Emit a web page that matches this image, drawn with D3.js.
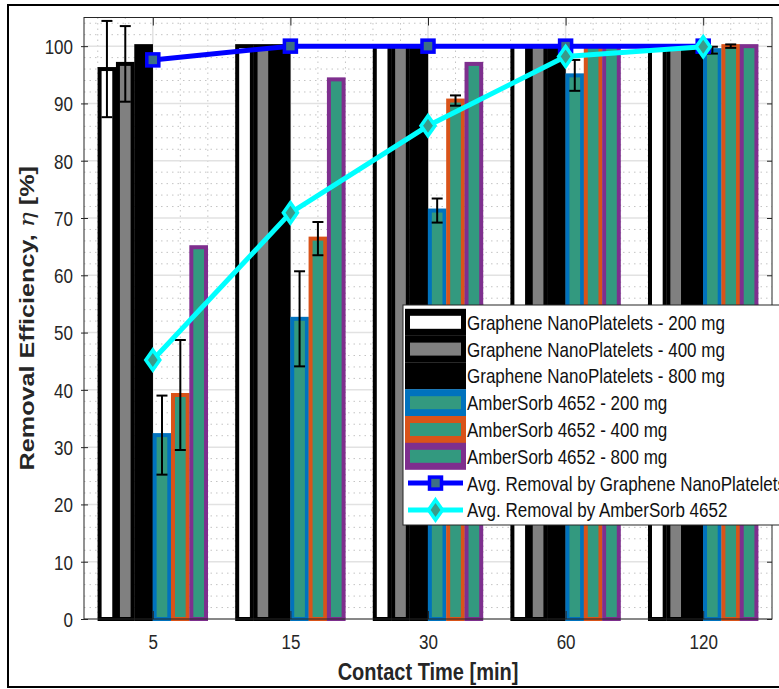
<!DOCTYPE html>
<html><head><meta charset="utf-8">
<script src="https://cdn.jsdelivr.net/npm/d3@7"></script>
<style>body{margin:0;background:#fff}svg{display:block}</style>
</head><body><svg id="c" width="779" height="689"></svg>
<script>
// ---- data ----
const categories = ["5", "15", "30", "60", "120"];
const gnp200 = [96.0, 100, 100, 100, 100];
const gnp200Err = [8.4, 0, 0, 0, 0];
const gnp400 = [96.9, 100, 100, 100, 100];
const gnp400Err = [6.6, 0, 0, 0, 0];
const gnp800 = [100, 100, 100, 100, 100];
const gnp800Err = [0, 0, 0, 0, 0];
const amb200 = [32.1, 52.4, 71.3, 94.9, 99.3];
const amb200Err = [6.9, 8.3, 2.1, 2.7, 0.6];
const amb400 = [39.1, 66.4, 90.5, 100, 100];
const amb400Err = [9.6, 2.9, 0.9, 0, 0.3];
const amb800 = [64.9, 94.2, 96.9, 100, 100];
const amb800Err = [0, 0, 0, 0, 0];
const avgGnp = [97.6, 100, 100, 100, 100];
const avgAmb = [45.2, 70.9, 86.1, 98.2, 99.9];
const yTicks = [0, 10, 20, 30, 40, 50, 60, 70, 80, 90, 100];
const barNames = ["Graphene NanoPlatelets - 200 mg", "Graphene NanoPlatelets - 400 mg",
  "Graphene NanoPlatelets - 800 mg", "AmberSorb 4652 - 200 mg", "AmberSorb 4652 - 400 mg",
  "AmberSorb 4652 - 800 mg"];
const lineNames = ["Avg. Removal by Graphene NanoPlatelets", "Avg. Removal by AmberSorb 4652"];
const xLabel = "Contact Time [min]";

// ---- styles ----
const TEAL = "#33997f";
const barStyles = [
  {fill: "#ffffff", edge: "#000000"},
  {fill: "#808080", edge: "#000000"},
  {fill: "#000000", edge: "#000000"},
  {fill: TEAL, edge: "#0072bd"},
  {fill: TEAL, edge: "#d95319"},
  {fill: TEAL, edge: "#7e2f8e"}
];
const barSeries = [gnp200, gnp400, gnp800, amb200, amb400, amb800];
const errSeries = [gnp200Err, gnp400Err, gnp800Err, amb200Err, amb400Err, amb800Err];
const SY = 1.22;
const FONT = "'Liberation Sans', Arial, Helvetica, sans-serif";
const TXT = "#262626";

const svg = d3.select("#c");
const L = 84, R = 772, T = 17.5, B = 619;
const x = d3.scaleLinear().domain([0.5, 5.5]).range([L, R]);
const y = d3.scaleLinear().domain([0, 105]).range([B, T]);

// outer frame
svg.append("rect").attr("x", 8).attr("y", 5).attr("width", 800).attr("height", 682)
  .attr("fill", "none").attr("stroke", "#000").attr("stroke-width", 2);

// grid
const grid = svg.append("g");
const minorY = d3.range(2, 105, 2).filter(v => v % 10 !== 0);
grid.selectAll(".my").data(minorY).join("line")
  .attr("x1", L).attr("x2", R).attr("y1", d => y(d)).attr("y2", d => y(d))
  .attr("stroke", "#c4c4c4").attr("stroke-width", 1).attr("stroke-dasharray", "1.5,4");
const minorX = d3.range(0.6, 5.45, 0.2).filter(v => Math.abs(v - Math.round(v)) > 0.05);
grid.selectAll(".mx").data(minorX).join("line")
  .attr("y1", T).attr("y2", B).attr("x1", d => x(d)).attr("x2", d => x(d))
  .attr("stroke", "#c4c4c4").attr("stroke-width", 1).attr("stroke-dasharray", "1.5,4");
grid.selectAll(".gy").data(yTicks).join("line")
  .attr("x1", L).attr("x2", R).attr("y1", d => y(d)).attr("y2", d => y(d))
  .attr("stroke", "#e2e2e2").attr("stroke-width", 1.5);
grid.selectAll(".gx").data([1, 2, 3, 4, 5]).join("line")
  .attr("y1", T).attr("y2", B).attr("x1", d => x(d)).attr("x2", d => x(d))
  .attr("stroke", "#e2e2e2").attr("stroke-width", 1.5);

// bars
const nS = barSeries.length;
const slot = 0.8 / nS;
const bw = slot * 0.8;
const bars = svg.append("g");
barSeries.forEach((vals, s) => {
  const st = barStyles[s];
  bars.append("g").selectAll("rect").data(vals).join("rect")
    .attr("x", (d, i) => x(i + 1 + (s - (nS - 1) / 2) * slot - bw / 2))
    .attr("width", x(bw) - x(0))
    .attr("y", d => y(d)).attr("height", d => y(0) - y(d))
    .attr("fill", st.fill).attr("stroke", st.edge).attr("stroke-width", 4);
});
// error bars
const eb = svg.append("g").attr("stroke", "#000").attr("stroke-width", 2);
barSeries.forEach((vals, s) => {
  vals.forEach((v, i) => {
    const e = errSeries[s][i];
    if (!e) return;
    const cx = x(i + 1 + (s - (nS - 1) / 2) * slot);
    eb.append("line").attr("x1", cx).attr("x2", cx).attr("y1", y(v - e)).attr("y2", y(v + e));
    eb.append("line").attr("x1", cx - 5.5).attr("x2", cx + 5.5).attr("y1", y(v - e)).attr("y2", y(v - e));
    eb.append("line").attr("x1", cx - 5.5).attr("x2", cx + 5.5).attr("y1", y(v + e)).attr("y2", y(v + e));
  });
});

// lines
const line = d3.line().x((d, i) => x(i + 1)).y(d => y(d));
function squareMarker(g, cx, cy) {
  g.append("rect").attr("x", cx - 6).attr("y", cy - 6).attr("width", 12).attr("height", 12)
    .attr("fill", "#3d6f86").attr("stroke", "#0000ff").attr("stroke-width", 3.5);
}
function diamondMarker(g, cx, cy) {
  g.append("path").attr("d", `M${cx},${cy - 10}L${cx + 7},${cy}L${cx},${cy + 10}L${cx - 7},${cy}Z`)
    .attr("fill", "#3a9a8a").attr("stroke", "#00ffff").attr("stroke-width", 3.5);
}
const lg = svg.append("g");
lg.append("path").attr("d", line(avgGnp)).attr("fill", "none").attr("stroke", "#0000ff").attr("stroke-width", 5);
avgGnp.forEach((v, i) => squareMarker(lg, x(i + 1), y(v)));
lg.append("path").attr("d", line(avgAmb)).attr("fill", "none").attr("stroke", "#00ffff").attr("stroke-width", 5);
avgAmb.forEach((v, i) => diamondMarker(lg, x(i + 1), y(v)));

// frame
svg.append("rect").attr("x", L).attr("y", T).attr("width", R - L).attr("height", B - T)
  .attr("fill", "none").attr("stroke", TXT).attr("stroke-width", 1);

// axes
const axL = svg.append("g").attr("transform", `translate(${L},0)`)
  .call(d3.axisLeft(y).tickValues(yTicks).tickSize(3).tickFormat(d3.format("d")));
axL.select(".domain").remove();
axL.selectAll(".tick line").attr("stroke", TXT).attr("x2", -3).attr("x1", 4);
axL.selectAll(".tick text").attr("x", 0).attr("y", 0).attr("dy", null)
  .attr("text-anchor", "end").attr("transform", `translate(-11,7.4) scale(1,${SY})`)
  .attr("fill", TXT).attr("font-size", 17).attr("font-family", FONT);

const axR = svg.append("g").attr("transform", `translate(${R},0)`)
  .call(d3.axisRight(y).tickValues(yTicks).tickSize(-5).tickFormat(""));
axR.select(".domain").remove();
axR.selectAll(".tick line").attr("stroke", TXT);

const axT = svg.append("g").attr("transform", `translate(0,${T})`)
  .call(d3.axisTop(x).tickValues([1, 2, 3, 4, 5]).tickSize(-8).tickFormat(""));
axT.select(".domain").remove();
axT.selectAll(".tick line").attr("stroke", TXT);

const axB = svg.append("g").attr("transform", `translate(0,${B})`)
  .call(d3.axisBottom(x).tickValues([1, 2, 3, 4, 5]).tickSize(-8).tickFormat(d => categories[d - 1]));
axB.select(".domain").remove();
axB.selectAll(".tick line").attr("stroke", TXT);
axB.selectAll(".tick text").attr("x", 0).attr("y", 0).attr("dy", null)
  .attr("text-anchor", "middle").attr("transform", `translate(0,30) scale(1,${SY})`)
  .attr("fill", TXT).attr("font-size", 17).attr("font-family", FONT);

// axis labels
svg.append("text").attr("transform", `translate(${(L + R) / 2},680) scale(1,${SY})`)
  .attr("text-anchor", "middle").attr("font-family", FONT).attr("font-size", 20)
  .attr("font-weight", "bold").attr("fill", TXT).text(xLabel);
const yl = svg.append("text").attr("transform", `translate(34,${(T + B) / 2}) rotate(-90) scale(1.26,1)`)
  .attr("text-anchor", "middle").attr("font-family", FONT).attr("font-size", 20)
  .attr("font-weight", "bold").attr("fill", TXT);
yl.append("tspan").text("Removal Efficiency, ");
yl.append("tspan").attr("font-style", "italic").attr("font-weight", "normal").attr("font-family", "'DejaVu Serif', serif").text("η");
yl.append("tspan").text(" [%]");

// legend
const leg = svg.append("g");
leg.append("rect").attr("x", 403).attr("y", 305).attr("width", 400).attr("height", 220)
  .attr("fill", "#fff").attr("stroke", TXT).attr("stroke-width", 1);
const rowH = 26.8, row0 = 322.3;
barNames.forEach((name, i) => {
  const cy = row0 + i * rowH;
  leg.append("rect").attr("x", 405).attr("y", cy - 13.5).attr("width", 61).attr("height", 27)
    .attr("fill", barStyles[i].edge);
  leg.append("rect").attr("x", 410).attr("y", cy - 6.5).attr("width", 51).attr("height", 13)
    .attr("fill", barStyles[i].fill);
});
const allNames = barNames.concat(lineNames);
allNames.forEach((name, i) => {
  const cy = row0 + i * rowH;
  leg.append("text").attr("transform", `translate(467,${cy + 7.4}) scale(1,${SY})`)
    .attr("font-family", FONT).attr("font-size", 17).attr("fill", "#111").text(name);
});
{
  const cy1 = row0 + 6 * rowH, cy2 = row0 + 7 * rowH;
  leg.append("line").attr("x1", 408).attr("x2", 463).attr("y1", cy1).attr("y2", cy1)
    .attr("stroke", "#0000ff").attr("stroke-width", 5);
  squareMarker(leg, 435.5, cy1);
  leg.append("line").attr("x1", 408).attr("x2", 463).attr("y1", cy2).attr("y2", cy2)
    .attr("stroke", "#00ffff").attr("stroke-width", 5);
  diamondMarker(leg, 435.5, cy2);
}
</script></body></html>
